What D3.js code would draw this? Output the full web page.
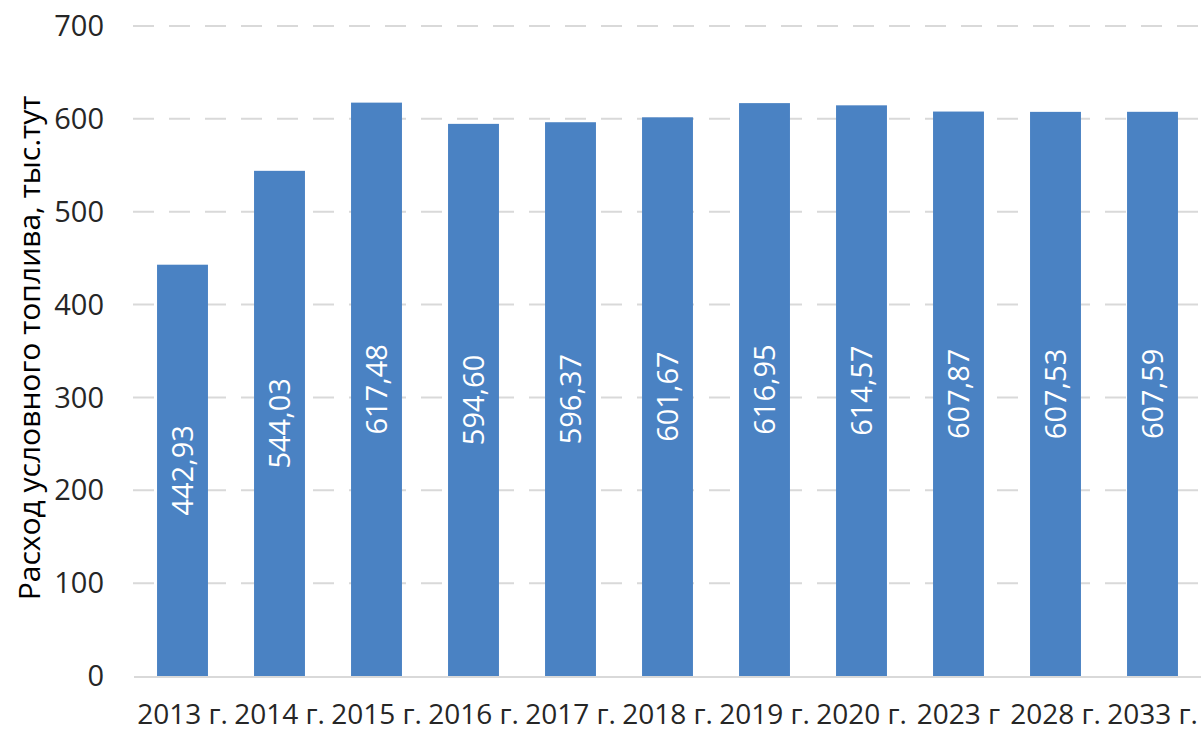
<!DOCTYPE html>
<html>
<head>
<meta charset="utf-8">
<script src="https://cdn.jsdelivr.net/npm/d3@7"></script>
<style>
  body { margin: 0; background: #fff; }
  svg { display: block; font-family: "Open Sans", sans-serif; }
</style>
</head>
<body>
<svg id="chart" width="1201" height="731"></svg>
<script>
// data
const years = ["2013 г.", "2014 г.", "2015 г.", "2016 г.", "2017 г.", "2018 г.",
  "2019 г.", "2020 г.", "2023 г", "2028 г.", "2033 г."];
const fuel = [442.93, 544.03, 617.48, 594.60, 596.37, 601.67, 616.95, 614.57, 607.87, 607.53, 607.59];
const yTicks = [0, 100, 200, 300, 400, 500, 600, 700];
const yTitle = "Расход условного топлива, тыс.тут";

let svg = d3.select("#chart");
let margin = {left: 134, right: 0, top: 26, bottom: 55};
let width = 1201, height = 731;

let x = d3.scaleBand()
    .domain(years)
    .range([margin.left, width - margin.right])
    .paddingInner(0.475)
    .paddingOuter(0.2375);

let y = d3.scaleLinear()
    .domain([0, 700])
    .range([height - margin.bottom, margin.top]);

// gridlines
svg.append("g")
    .selectAll("line")
    .data(yTicks.filter((d) => d > 0))
    .enter().append("line")
    .attr("x1", margin.left - 1)
    .attr("x2", width)
    .attr("y1", (d) => y(d))
    .attr("y2", (d) => y(d))
    .attr("stroke", "#d9d9d9")
    .attr("stroke-width", 2)
    .attr("stroke-dasharray", "21,15");

// y tick labels
svg.append("g")
    .selectAll("text")
    .data(yTicks)
    .enter().append("text")
    .attr("x", 104)
    .attr("y", (d) => y(d))
    .attr("dy", "0.35em")
    .attr("text-anchor", "end")
    .attr("font-size", 29)
    .attr("fill", "#262626")
    .text((d) => d);

// bars
svg.append("g")
    .selectAll("rect")
    .data(fuel)
    .enter().append("rect")
    .attr("x", (d, i) => x(years[i]))
    .attr("width", x.bandwidth())
    .attr("y", (d) => y(d))
    .attr("height", (d) => y(0) - y(d))
    .attr("fill", "#4a82c3");

// baseline
svg.append("line")
    .attr("x1", margin.left)
    .attr("x2", width)
    .attr("y1", y(0) + 1)
    .attr("y2", y(0) + 1)
    .attr("stroke", "#d9d9d9")
    .attr("stroke-width", 2);

// value labels inside bars
svg.append("g")
    .selectAll("text")
    .data(fuel)
    .enter().append("text")
    .attr("transform", (d, i) => "translate(" + (x(years[i]) + x.bandwidth() / 2) + "," + ((y(d) + y(0)) / 2) + ") rotate(-90)")
    .attr("dy", "0.35em")
    .attr("text-anchor", "middle")
    .attr("font-size", 29)
    .attr("fill", "#fff")
    .text((d) => d.toFixed(2).replace(".", ","));

// x labels
svg.append("g")
    .selectAll("text")
    .data(years)
    .enter().append("text")
    .attr("x", (d) => x(d) + x.bandwidth() / 2)
    .attr("y", 724)
    .attr("text-anchor", "middle")
    .attr("font-size", 28)
    .attr("fill", "#262626")
    .text((d) => d);

// y title
svg.append("text")
    .attr("transform", "translate(40," + 348 + ") rotate(-90)")
    .attr("text-anchor", "middle")
    .attr("font-size", 30)
    .attr("fill", "#000")
    .text(yTitle);
</script>
</body>
</html>
